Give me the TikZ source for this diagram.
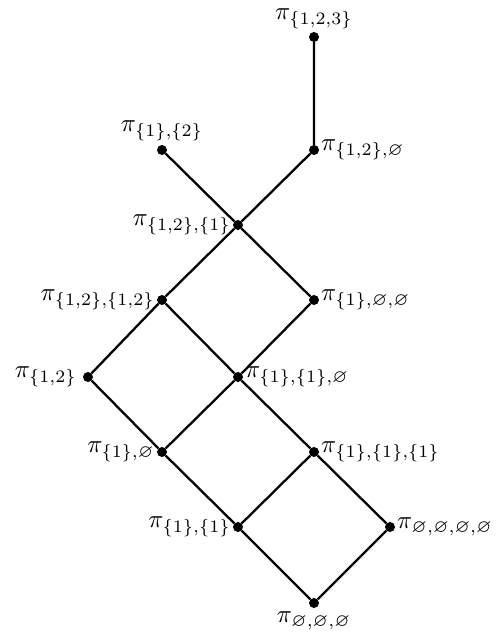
\documentclass[tikz,border=0pt]{standalone}
\usepackage{amssymb}
\begin{document}
\begin{tikzpicture}[x=1pt,y=-1pt,
  vtx/.style={circle,fill=black,inner sep=0pt,minimum size=10pt},
  lbl/.style={scale=2.5,inner sep=0.6pt},
  edge/.style={line width=2.3pt}]
\useasboundingbox (0,0) rectangle (501,638);
\node[vtx] (a) at (314,37) {};
\node[vtx] (b) at (162,150) {};
\node[vtx] (c) at (314,150) {};
\node[vtx] (d) at (238,225) {};
\node[vtx] (e) at (162,300) {};
\node[vtx] (f) at (314,300) {};
\node[vtx] (g) at (88,377) {};
\node[vtx] (h) at (238,377) {};
\node[vtx] (i) at (162,452) {};
\node[vtx] (j) at (314,452) {};
\node[vtx] (k) at (238,527) {};
\node[vtx] (l) at (390,527) {};
\node[vtx] (m) at (314,603) {};
\draw[edge] (a)--(c) (c)--(d) (b)--(d) (d)--(e) (d)--(f) (e)--(g) (e)--(h) (f)--(h)
  (g)--(i) (h)--(i) (h)--(j) (i)--(k) (j)--(k) (j)--(l) (k)--(m) (l)--(m);
\node[lbl,anchor=south] (la) at ([yshift=1pt]a.north) {$\pi_{\{1,2,3\}}$};
\node[lbl,anchor=south] (lb) at ([yshift=2pt]b.north) {$\pi_{\{1\},\{2\}}$};
\node[lbl,anchor=west] (lc) at (c.east) {$\pi_{\{1,2\},\varnothing}$};
\node[lbl,anchor=east] (ld) at (d.west) {$\pi_{\{1,2\},\{1\}}$};
\node[lbl,anchor=east] (le) at (e.west) {$\pi_{\{1,2\},\{1,2\}}$};
\node[lbl,anchor=west] (lf) at (f.east) {$\pi_{\{1\},\varnothing,\varnothing}$};
\node[lbl,anchor=east] (lg) at ([xshift=-4pt]g.west) {$\pi_{\{1,2\}}$};
\node[lbl,anchor=west] (lh) at (h.east) {$\pi_{\{1\},\{1\},\varnothing}$};
\node[lbl,anchor=east] (li) at (i.west) {$\pi_{\{1\},\varnothing}$};
\node[lbl,anchor=west] (lj) at (j.east) {$\pi_{\{1\},\{1\},\{1\}}$};
\node[lbl,anchor=east] (lk) at (k.west) {$\pi_{\{1\},\{1\}}$};
\node[lbl,anchor=west] (ll) at (l.east) {$\pi_{\varnothing,\varnothing,\varnothing,\varnothing}$};
\node[lbl,anchor=north] (lm) at ([yshift=-2pt]m.south) {$\pi_{\varnothing,\varnothing,\varnothing}$};
\end{tikzpicture}
\end{document}
